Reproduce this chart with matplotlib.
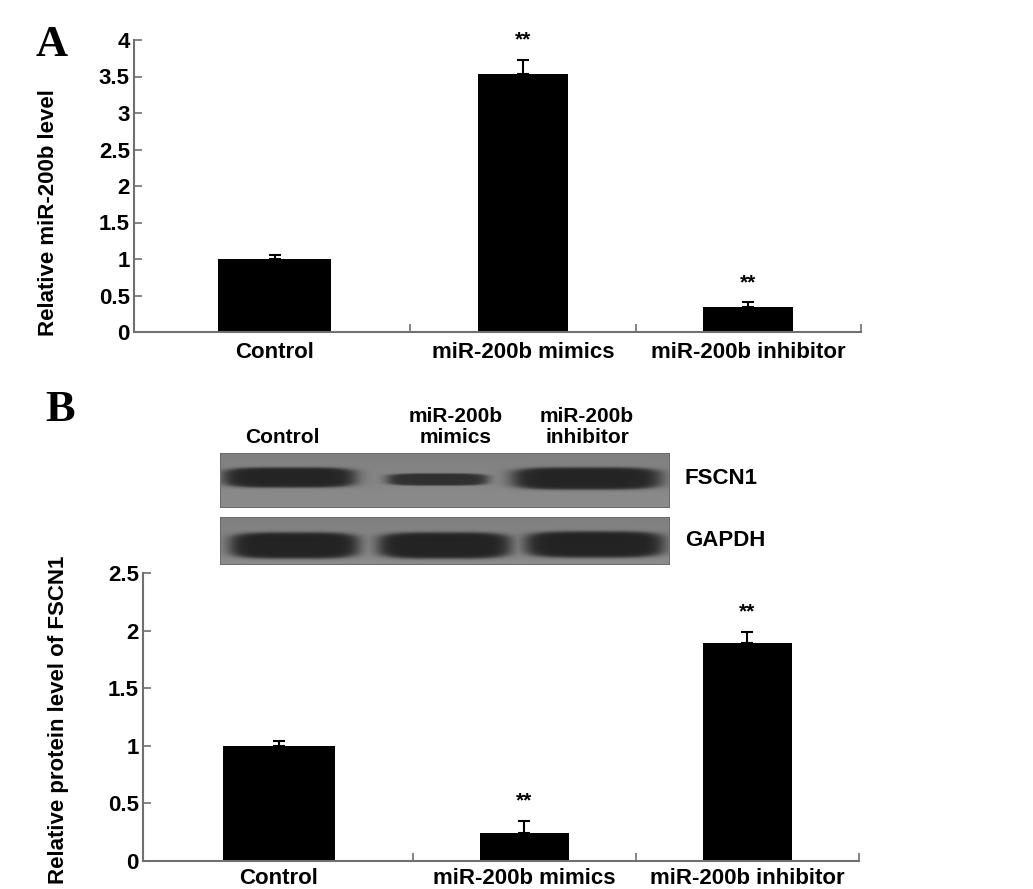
import numpy as np
import matplotlib
matplotlib.use('Agg')
import matplotlib.pyplot as plt

plt.rcParams['font.family'] = ['Liberation Sans', 'DejaVu Sans']
plt.rcParams['font.weight'] = 'bold'

# datos
grupos = ['Control', 'miR-200b mimics', 'miR-200b inhibitor']
mir_nivel = [1.00, 3.53, 0.34]
mir_err = [0.05, 0.20, 0.07]
mir_sig = ['', '**', '**']

fscn1_nivel = [1.00, 0.24, 1.89]
fscn1_err = [0.04, 0.11, 0.10]
fscn1_sig = ['', '**', '**']

carriles_blot = ['Control', 'miR-200b\nmimics', 'miR-200b\ninhibitor']
proteinas_blot = ['FSCN1', 'GAPDH']

W, H = 1033, 889
fig = plt.figure(figsize=(W / 100, H / 100), dpi=100)

gris_eje = '#707070'


def px(x0, y0, x1, y1):
    # pixeles de la imagen -> fraccion de figura
    return [x0 / W, 1 - y1 / H, (x1 - x0) / W, (y1 - y0) / H]


def panel_barras(ax, valores, errores, sig, ymax, paso, xmin, ylabel, lab_y, pad_x):
    pos = np.array([0.9, 2.0, 3.0])
    anchos = [0.5, 0.4, 0.4]
    ax.bar(pos, valores, width=anchos, color='black', zorder=2)
    ax.errorbar(pos, valores, yerr=[np.zeros(len(valores)), errores], fmt='none',
                ecolor='black', elinewidth=1.5, capsize=4, capthick=1.5, zorder=3)
    for x, v, e, s in zip(pos, valores, errores, sig):
        if s:
            ax.annotate(s, (x, v + e), xytext=(0, 14), textcoords='offset points',
                        ha='center', va='center', fontsize=15, fontweight='bold')
    ax.set_xlim(xmin, 3.5)
    ax.set_ylim(0, ymax)
    ax.set_yticks(np.arange(0, ymax + 0.01, paso))
    ax.set_yticklabels(['%g' % t for t in np.arange(0, ymax + 0.01, paso)])
    ax.set_xticks(pos)
    ax.set_xticklabels(grupos)
    ax.set_xticks([1.5, 2.5, 3.5], minor=True)
    ax.tick_params(axis='x', which='major', length=0, pad=pad_x, labelsize=16)
    ax.tick_params(axis='x', which='minor', direction='in', length=6, color=gris_eje, width=1.2)
    ax.tick_params(axis='y', direction='in', length=6, color=gris_eje, width=1.2,
                   pad=3, labelsize=16)
    for s in ['top', 'right']:
        ax.spines[s].set_visible(False)
    for s in ['left', 'bottom']:
        ax.spines[s].set_color(gris_eje)
        ax.spines[s].set_linewidth(1.5)
    ax.set_ylabel(ylabel, fontsize=16, fontweight='bold')
    ax.yaxis.set_label_coords(-0.103, lab_y)


# Panel A
axA = fig.add_axes(px(134, 40, 861, 332))
panel_barras(axA, mir_nivel, mir_err, mir_sig, 4, 0.5, 0.276,
             'Relative miR-200b level', 0.41, 7)
fig.text(52 / W, 1 - 45 / H, 'A', fontsize=32, fontweight='bold',
         family='Liberation Serif', ha='center', va='center')

# Panel B
axB = fig.add_axes(px(143, 573, 859, 861))
panel_barras(axB, fscn1_nivel, fscn1_err, fscn1_sig, 2.5, 0.5, 0.291,
             'Relative protein level of FSCN1', 0.49, 5)
fig.text(60 / W, 1 - 410 / H, 'B', fontsize=32, fontweight='bold',
         family='Liberation Serif', ha='center', va='center')

# western blot (imagen esquematica)
bx0, by0, bx1, by1 = 220, 453, 670, 565
ancho, alto = bx1 - bx0, by1 - by0
img = np.ones((alto, ancho))
yy, xx = np.mgrid[0:alto, 0:ancho]
tiras = [(0, 55), (64, 112)]
fondo = 0.50
# bandas: x0, x1, y0, y1, oscuridad
bandas = [(3, 135, 14, 34, 0.14), (167, 267, 20, 32, 0.18), (292, 440, 14, 36, 0.14),
          (10, 138, 79, 105, 0.13), (158, 290, 79, 105, 0.13), (305, 443, 78, 104, 0.13)]
mascara = np.zeros_like(img)
for x0, x1, y0, y1, osc in bandas:
    cx, cy = (x0 + x1) / 2, (y0 + y1) / 2
    hx, hy = (x1 - x0) / 2, (y1 - y0) / 2
    r = (np.abs((xx - cx) / hx) ** 4 + np.abs((yy - cy) / hy) ** 4) ** 0.25
    f = 1 / (1 + np.exp((r - 1) * 14))
    mascara = np.maximum(mascara, f * (fondo - osc) / fondo)
for t0, t1 in tiras:
    # fondo algo mas claro hacia abajo de cada tira
    grad = fondo + 0.05 * (yy[t0:t1, :] - t0) / (t1 - t0)
    img[t0:t1, :] = grad * (1 - mascara[t0:t1, :])
    img[t0, :] = img[t1 - 1, :] = 0.42
    img[t0:t1, 0] = img[t0:t1, -1] = 0.42

axBlot = fig.add_axes(px(bx0, by0, bx1, by1))
axBlot.imshow(img, cmap='gray', vmin=0, vmax=1, aspect='auto', interpolation='bilinear')
axBlot.axis('off')

centros_carril = [282, 456, 587]
for c, t in zip(centros_carril, carriles_blot):
    fig.text(c / W, 1 - 447 / H, t, ha='center', va='bottom', fontsize=15,
             fontweight='bold', linespacing=1.15)
for yc, t in zip([479, 540], proteinas_blot):
    fig.text(685 / W, 1 - yc / H, t, ha='left', va='center', fontsize=16,
             fontweight='bold')

fig.savefig('out.png', dpi=100)
